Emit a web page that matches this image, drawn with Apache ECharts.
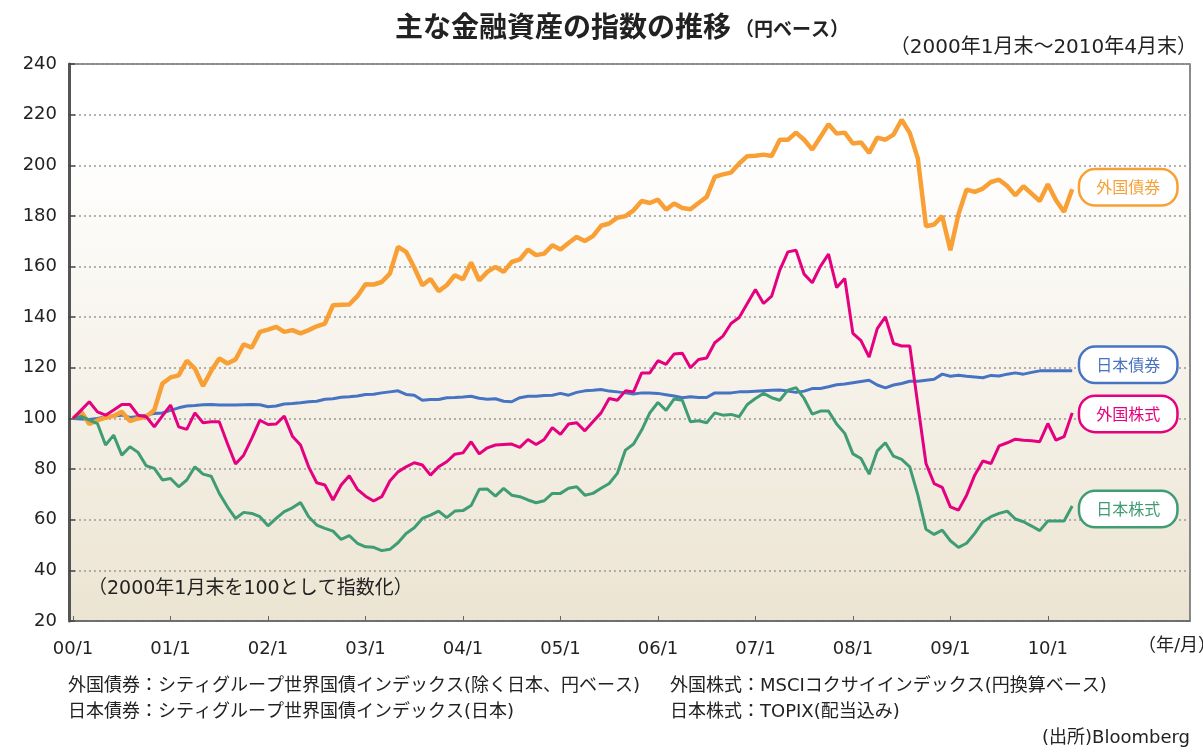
<!DOCTYPE html>
<html lang="ja">
<head>
    <meta charset="UTF-8">
    <script src="https://cdn.jsdelivr.net/npm/echarts@6/dist/echarts.min.js"></script>
    <style>
        html, body { margin: 0; padding: 0; background: #fff; }
        #main { width: 1203px; height: 753px; }
    </style>
</head>
<body>
<div id="main"></div>
<script>
    // 月次データ 2000/1 ～ 2010/4 (2000年1月末 = 100)
    var foreignBond = [100, 102.6, 97.8, 99.2, 100.3, 101, 102.6, 99, 100, 100.7, 103.3, 113.8,
        116.2, 117, 122.8, 119.7, 112.8, 118.8, 123.7, 121.7, 123.3, 129.3, 128, 134.2,
        135.1, 136.2, 134.2, 134.9, 133.6, 134.9, 136.4, 137.5, 144.7, 144.9, 145, 148.3,
        153, 152.9, 153.9, 157.2, 167.8, 165.8, 159.6, 152.6, 155.1, 150.3, 152.6, 156.6,
        155, 161.6, 154.5, 157.9, 159.9, 157.9, 161.8, 162.8, 166.7, 164.5, 165.1, 168.4,
        166.7, 169.3, 171.7, 170.1, 172, 176.1, 177, 179.3, 179.9, 182.2, 185.9, 185.1,
        186.4, 182.5, 184.9, 183.1, 182.6, 185.1, 187.5, 195.4, 196.4, 197.1, 200.7, 203.6,
        203.8, 204.2, 203.7, 210.1, 210.1, 212.9, 210.1, 206.2, 211.2, 216.2, 212.5, 212.9,
        208.6, 209, 204.9, 210.9, 210.1, 212.1, 218, 212.8, 202.6, 175.9, 176.6, 179.9,
        166.4, 180.7, 190.4, 189.5, 190.8, 193.4, 194.3, 191.8, 188.2, 191.7, 188.8, 185.9,
        192.5, 186.2, 181.6, 190.5];
    var foreignStock = [100, 103.3, 106.6, 102.6, 101.3, 103.3, 105.5, 105.5, 101.3, 100.7, 96.7, 101,
        105.3, 96.7, 95.7, 102.2, 98.3, 98.7, 98.7, 90.1, 82, 85.5, 92.1, 99.3,
        97.6, 97.8, 100.9, 93, 89.5, 80.9, 74.6, 73.7, 67.8, 73.7, 77.4, 72,
        69.3, 67.4, 69.1, 75.3, 78.9, 80.9, 82.5, 81.6, 77.6, 80.9, 82.9, 85.9,
        86.4, 90.8, 86, 88.4, 89.5, 89.7, 89.9, 88.6, 91.7, 89.7, 91.7, 96.4,
        93.7, 97.8, 98.3, 95.1, 98.7, 102.2, 107.9, 107.2, 110.9, 110.5, 118, 118,
        122.8, 121.4, 125.5, 125.8, 120, 123.3, 123.9, 129.9, 132.5, 137.5, 139.9, 145.4,
        150.9, 145.4, 148.3, 158.6, 165.8, 166.4, 157, 153.6, 160.1, 164.9, 151.7, 155.3,
        133.6, 130.7, 124.2, 135.5, 140.1, 129.6, 128.6, 128.6, 105.3, 82.2, 74.3, 72.8,
        65.1, 63.8, 69.7, 77.6, 83.2, 82.2, 89.2, 90.4, 91.8, 91.4, 91.2, 90.8,
        98, 91.4, 92.8, 102.2];
    var japanBond = [100, 99.8, 99.6, 100, 100.6, 101, 101.3, 100.4, 100.8, 101.3, 102, 102.2,
        103.2, 104.2, 104.9, 105.1, 105.4, 105.5, 105.3, 105.3, 105.3, 105.4, 105.5, 105.4,
        104.6, 104.9, 105.7, 105.9, 106.2, 106.6, 106.8, 107.6, 107.8, 108.4, 108.6, 108.9,
        109.5, 109.6, 110.1, 110.5, 110.9, 109.5, 109.2, 107.2, 107.5, 107.5, 108.2, 108.3,
        108.5, 108.8, 108, 107.6, 107.8, 106.8, 106.6, 108.2, 108.8, 108.8, 109.1, 109.2,
        109.9, 109.2, 110.3, 110.9, 111.1, 111.4, 110.8, 110.5, 110.1, 109.7, 110.1, 110.1,
        109.9, 109.4, 108.9, 108.2, 108.6, 108.3, 108.3, 110.1, 110.1, 110.1, 110.5, 110.5,
        110.7, 110.9, 111.1, 111.2, 110.8, 110.3, 110.8, 111.8, 111.8, 112.5, 113.3, 113.6,
        114.1, 114.6, 115.1, 113.2, 112.1, 113.2, 113.8, 114.7, 114.7, 115.1, 115.5, 117.5,
        116.7, 117.1, 116.7, 116.4, 116.1, 117, 116.8, 117.5, 118, 117.5, 118.2, 118.8,
        118.8, 118.8, 118.8, 118.8];
    var japanStock = [100, 100.8, 99.3, 98, 89.5, 93.4, 85.5, 88.8, 86.6, 81.3, 80.3, 75.7,
        76.3, 73, 75.7, 80.9, 78, 77.2, 70.4, 65.1, 60.5, 62.9, 62.5, 61.2,
        57.6, 60.5, 63.2, 64.7, 66.8, 61.2, 57.9, 56.6, 55.5, 52.2, 53.7, 50.7,
        49.3, 49.1, 47.8, 48.3, 50.9, 54.6, 56.8, 60.5, 61.8, 63.4, 60.8, 63.4,
        63.6, 65.6, 72, 72.1, 69.3, 72.4, 69.7, 69.1, 67.8, 66.7, 67.5, 70.4,
        70.4, 72.4, 73, 69.7, 70.4, 72.4, 74.3, 78.3, 87.5, 89.9, 95.4, 102.2,
        106.3, 103.2, 107.7, 107.2, 98.7, 99.1, 98.3, 102.2, 101.3, 101.6, 100.7, 105.5,
        107.9, 109.9, 108.2, 107.2, 111.2, 112.2, 107.9, 101.7, 102.9, 102.9, 97.8, 94.1,
        86, 84.2, 78, 87.2, 90.4, 85.1, 83.8, 80.9, 69.7, 56.2, 54.2, 55.9,
        51.7, 49.1, 50.7, 54.6, 59.2, 61.2, 62.5, 63.4, 60.3, 59.2, 57.5, 55.7,
        59.5, 59.5, 59.5, 65.4];

    // 横軸は 2000/1 ～ 2011/6 (右側に余白)
    var months = [];
    for (var y = 2000; y <= 2011; y++) {
        for (var m = 1; m <= 12; m++) {
            if (y === 2011 && m > 6) break;
            months.push(String(y).slice(2) + '/' + m);
        }
    }
    var yTicks = [20, 40, 60, 80, 100, 120, 140, 160, 180, 200, 220, 240];

    var font = '"Noto Sans CJK JP", sans-serif';
    var numFont = '"DejaVu Sans", "Noto Sans CJK JP", sans-serif';
    var colors = {
        fb: '#f8a035',
        fs: '#e5007f',
        jb: '#4673c2',
        js: '#3f9c74'
    };

    function isYearStart(idx) {
        return idx % 12 === 0 && idx <= 120;
    }

    function tag(color, dy) {
        return {
            show: true,
            formatter: '{a}',
            color: color,
            fontFamily: font,
            fontSize: 16,
            lineHeight: 18,
            backgroundColor: '#fff',
            borderColor: color,
            borderWidth: 2.5,
            borderRadius: 15,
            padding: [8, 16],
            distance: 8,
            offset: [0, dy]
        };
    }

    function note(left, top, text, size, right) {
        var t = {
            type: 'text', top: top,
            style: { text: text, fontFamily: numFont, fontSize: size, fill: '#222' }
        };
        if (right) t.right = left; else t.left = left;
        return t;
    }

    var chart = echarts.init(document.getElementById('main'));
    var option = {
        animation: false,
        backgroundColor: '#fff',
        textStyle: { fontFamily: font },
        title: {
            text: '{a|主な金融資産の指数の推移} {b|（円ベース）}',
            left: 390,
            top: 7,
            textStyle: {
                rich: {
                    a: { fontFamily: font, fontSize: 28, fontWeight: 'bold', color: '#222' },
                    b: { fontFamily: font, fontSize: 19, fontWeight: 'bold', color: '#222', padding: [6, 0, 0, 0] }
                }
            }
        },
        grid: {
            left: 69,
            right: 13,
            top: 64,
            bottom: 132,
            show: true,
            borderColor: '#666',
            borderWidth: 1.5,
            backgroundColor: new echarts.graphic.LinearGradient(0, 0, 0, 1, [
                { offset: 0, color: '#ffffff' },
                { offset: 0.15, color: '#ffffff' },
                { offset: 1, color: '#ece4d2' }
            ])
        },
        xAxis: {
            type: 'category',
            data: months,
            boundaryGap: true,
            axisLine: { show: true, lineStyle: { color: '#666', width: 1.5 } },
            axisTick: {
                show: true,
                inside: true,
                length: 5,
                alignWithLabel: true,
                interval: function (idx) { return isYearStart(idx); },
                lineStyle: { color: '#666' }
            },
            axisLabel: {
                interval: function (idx) { return isYearStart(idx); },
                color: '#222',
                fontSize: 18,
                fontFamily: numFont,
                margin: 19
            },
            splitLine: { show: false }
        },
        yAxis: {
            type: 'value',
            min: yTicks[0],
            max: yTicks[yTicks.length - 1],
            interval: 20,
            axisLine: { show: true, lineStyle: { color: '#555', width: 3 } },
            axisTick: { show: true, inside: true, length: 6, lineStyle: { color: '#444', width: 1.5 } },
            axisLabel: { color: '#222', fontSize: 18, fontFamily: numFont, margin: 12 },
            splitLine: { show: true, lineStyle: { type: [2, 3], color: '#9a9a9a', width: 1.5 } }
        },
        series: [
            {
                name: '日本債券', type: 'line', data: japanBond, symbol: 'none',
                lineStyle: { color: colors.jb, width: 3 }, itemStyle: { color: colors.jb },
                endLabel: tag(colors.jb, -6)
            },
            {
                name: '外国債券', type: 'line', data: foreignBond, symbol: 'none',
                lineStyle: { color: colors.fb, width: 4.5 }, itemStyle: { color: colors.fb },
                endLabel: tag(colors.fb, -2)
            },
            {
                name: '日本株式', type: 'line', data: japanStock, symbol: 'none',
                lineStyle: { color: colors.js, width: 3 }, itemStyle: { color: colors.js },
                endLabel: tag(colors.js, 3)
            },
            {
                name: '外国株式', type: 'line', data: foreignStock, symbol: 'none',
                lineStyle: { color: colors.fs, width: 3 }, itemStyle: { color: colors.fs },
                endLabel: tag(colors.fs, 1)
            }
        ],
        graphic: [
            note(6, 38, '（2000年1月末～2010年4月末）', 20, true),
            note(88, 580, '（2000年1月末を100として指数化）', 19),
            note(1138, 637, '（年/月）', 18),
            note(68, 677, '外国債券：シティグループ世界国債インデックス(除く日本、円ベース)', 18),
            note(68, 703, '日本債券：シティグループ世界国債インデックス(日本)', 18),
            note(670, 677, '外国株式：MSCIコクサイインデックス(円換算ベース)', 18),
            note(670, 703, '日本株式：TOPIX(配当込み)', 18),
            note(13, 729, '(出所)Bloomberg', 18, true)
        ]
    };
    chart.setOption(option);
</script>
</body>
</html>
